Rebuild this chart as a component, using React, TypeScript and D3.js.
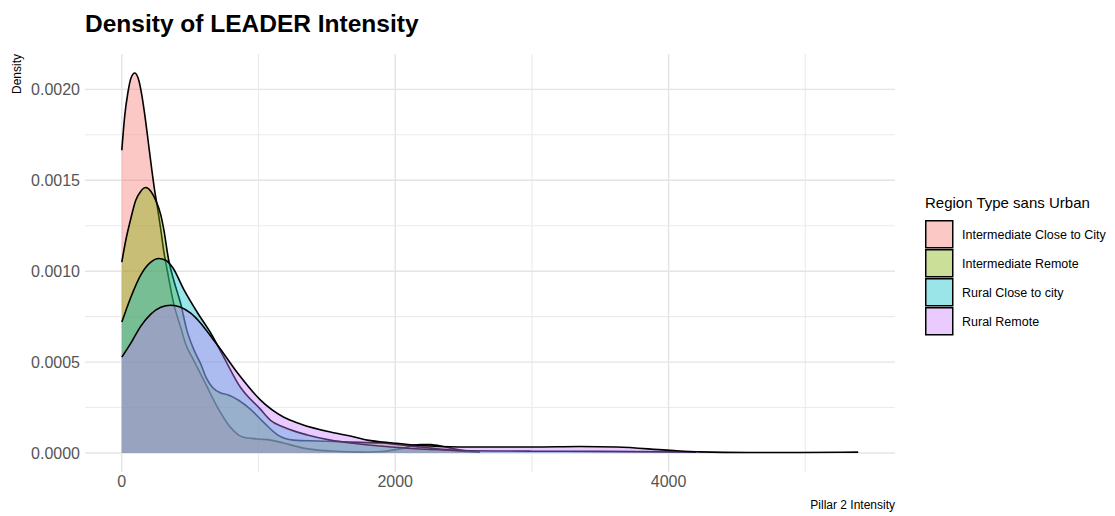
import React from 'react';
import * as d3 from 'd3';

// Kernel density estimates of LEADER (Pillar 2) intensity per region type.
const seriesNames = [
  'Intermediate Close to City',
  'Intermediate Remote',
  'Rural Close to city',
  'Rural Remote',
];
const seriesColors = ['#F8766D', '#7CAE00', '#00BFC4', '#C77CFF'];

const closeCityIntensity = [
  0, 22, 44, 66, 95, 124, 146, 168, 197, 219, 241, 263, 285, 307, 336, 380, 431, 467, 526, 613,
  701, 796, 883, 993, 1088, 1182, 1328, 1526, 1750, 1900, 2050, 2180, 2260, 2350, 2450, 2520,
];
const closeCityDensity = [
  0.001665, 0.00186, 0.00198, 0.00206, 0.00209, 0.00205, 0.00197, 0.00186, 0.00169, 0.00156,
  0.00144, 0.00134, 0.00123, 0.00111, 0.00099, 0.00082, 0.00069, 0.0006, 0.00051, 0.00038,
  0.00025, 0.00014, 0.000088, 0.000077, 0.000071, 0.000055, 0.000027, 0.000011, 0.000005,
  0.000008, 0.000025, 0.000047, 0.000046, 0.000036, 0.00002, 0.000012,
];

const remoteIntensity = [
  0, 29, 66, 102, 139, 175, 212, 248, 285, 307, 343, 380, 431, 474, 526, 577, 620, 664, 723, 774,
  854, 942, 1036, 1139, 1255, 1431, 1672, 1890, 2182, 2401, 2620,
];
const remoteDensity = [
  0.00105, 0.00117, 0.00129, 0.00139, 0.00144, 0.00146, 0.00144, 0.00139, 0.00131, 0.00123,
  0.00106, 0.00095, 0.00082, 0.00068, 0.00057, 0.00049, 0.00041, 0.00036, 0.00033, 0.00032,
  0.00029, 0.00024, 0.00017, 0.0001, 0.000071, 0.000066, 0.00006, 0.000055, 0.000033, 0.000016,
  0.000005,
];

const ruralCloseIntensity = [
  0, 66, 139, 212, 270, 321, 372, 453, 555, 650, 737, 869, 1015, 1088, 1182, 1358, 1526, 1672,
  1890, 2182, 2474, 3000, 3500, 4000, 4200,
];
const ruralCloseDensity = [
  0.00072, 0.000857, 0.00098, 0.00105, 0.00107, 0.00106, 0.00102, 0.0009, 0.00077, 0.00066,
  0.00054, 0.00036, 0.00024, 0.00018, 0.000143, 0.000099, 0.000071, 0.000055, 0.0000385,
  0.000022, 0.000014, 0.00001, 0.000009, 0.000006, 0.000004,
];

const ruralRemoteIntensity = [
  0, 66, 139, 212, 285, 358, 431, 504, 577, 650, 701, 847, 1015, 1182, 1307, 1526, 1672, 1796,
  1985, 2182, 2474, 3007, 3350, 3620, 3985, 4226, 4591, 4956, 5387,
];
const ruralRemoteDensity = [
  0.000527, 0.000604, 0.000698, 0.000764, 0.000802, 0.000813, 0.000802, 0.000769, 0.000714,
  0.000643, 0.000593, 0.00044, 0.000291, 0.000198, 0.00016, 0.000115, 0.000093, 0.000071,
  0.000055, 0.000041, 0.000033, 0.000033, 0.000036, 0.000033, 0.000016, 0.000006, 0.000003,
  0.000003, 0.000005,
];

const seriesIntensity = [closeCityIntensity, remoteIntensity, ruralCloseIntensity, ruralRemoteIntensity];
const seriesDensity = [closeCityDensity, remoteDensity, ruralCloseDensity, ruralRemoteDensity];

const yMajorTicks = [0, 0.0005, 0.001, 0.0015, 0.002];
const yMinorTicks = [0.00025, 0.00075, 0.00125, 0.00175];
const xMajorTicks = [0, 2000, 4000];
const xMinorTicks = [1000, 3000, 5000];

const W = 1115;
const H = 516;
const FONT = 'Liberation Sans, Arial, Helvetica, sans-serif';

export default function App() {
  const panel = { left: 85, right: 895, top: 54, bottom: 472 };

  const series = seriesNames.map((name, i) => ({
    name,
    color: seriesColors[i],
    points: seriesIntensity[i].map((v, j) => [v, seriesDensity[i][j]] as [number, number]),
  }));

  const xMax = d3.max(seriesIntensity.flat()) as number;
  const xMin = 0;
  const xPad = (xMax - xMin) * 0.05;
  const yMax = d3.max(seriesDensity.flat()) as number;
  const yPad = yMax * 0.05;

  const x = d3.scaleLinear().domain([xMin - xPad, xMax + xPad]).range([panel.left, panel.right]);
  const y = d3.scaleLinear().domain([-yPad, yMax + yPad]).range([panel.bottom, panel.top]);

  const area = d3
    .area<[number, number]>()
    .x((d) => x(d[0]))
    .y0(y(0))
    .y1((d) => y(d[1]))
    .curve(d3.curveMonotoneX);
  const line = d3
    .line<[number, number]>()
    .x((d) => x(d[0]))
    .y((d) => y(d[1]))
    .curve(d3.curveMonotoneX);

  const fmt = d3.format('.4f');

  return (
    <svg
      width={W}
      height={H}
      style={{ position: 'absolute', left: 0, top: 0, background: '#fff' }}
      fontFamily={FONT}
    >
      {/* grid */}
      {yMinorTicks.map((t) => (
        <line key={'ym' + t} x1={panel.left} x2={panel.right} y1={y(t)} y2={y(t)} stroke="#ebebeb" strokeWidth={1.1} />
      ))}
      {xMinorTicks.map((t) => (
        <line key={'xm' + t} x1={x(t)} x2={x(t)} y1={panel.top} y2={panel.bottom} stroke="#ebebeb" strokeWidth={1.1} />
      ))}
      {yMajorTicks.map((t) => (
        <line key={'yM' + t} x1={panel.left} x2={panel.right} y1={y(t)} y2={y(t)} stroke="#e4e4e4" strokeWidth={1.4} />
      ))}
      {xMajorTicks.map((t) => (
        <line key={'xM' + t} x1={x(t)} x2={x(t)} y1={panel.top} y2={panel.bottom} stroke="#e4e4e4" strokeWidth={1.4} />
      ))}

      {/* density layers: each fill followed by its upper outline */}
      {series.map((s) => (
        <g key={s.name}>
          <path d={area(s.points) || ''} fill={s.color} fillOpacity={0.4} stroke="none" />
          <path d={line(s.points) || ''} fill="none" stroke="#000" strokeWidth={1.6} />
        </g>
      ))}

      {/* y axis labels */}
      {yMajorTicks.map((t) => (
        <text key={'yl' + t} x={80} y={y(t)} textAnchor="end" dominantBaseline="central" fontSize={16} fill="#555">
          {fmt(t)}
        </text>
      ))}
      {/* x axis labels */}
      {xMajorTicks.map((t) => (
        <text key={'xl' + t} x={x(t)} y={487} textAnchor="middle" fontSize={16} fill="#555">
          {t}
        </text>
      ))}

      {/* axis titles */}
      <text transform={`translate(21,${panel.top}) rotate(-90)`} textAnchor="end" fontSize={12} fill="#000">
        Density
      </text>
      <text x={panel.right} y={509} textAnchor="end" fontSize={12} fill="#000">
        Pillar 2 Intensity
      </text>

      {/* title */}
      <text x={85} y={32} fontSize={24.5} fontWeight="bold" fill="#000">
        Density of LEADER Intensity
      </text>

      {/* legend */}
      <text x={925} y={208} fontSize={15} fill="#000">
        Region Type sans Urban
      </text>
      {series.map((s, i) => (
        <g key={'lg' + s.name} transform={`translate(925,${220 + i * 29})`}>
          <rect x={0.75} y={0.75} width={27} height={27} fill="#fff" />
          <rect x={0.75} y={0.75} width={27} height={27} fill={s.color} fillOpacity={0.4} stroke="#000" strokeWidth={1.5} />
          <text x={37} y={14.5} dominantBaseline="central" fontSize={12.5} fill="#000">
            {s.name}
          </text>
        </g>
      ))}
    </svg>
  );
}
